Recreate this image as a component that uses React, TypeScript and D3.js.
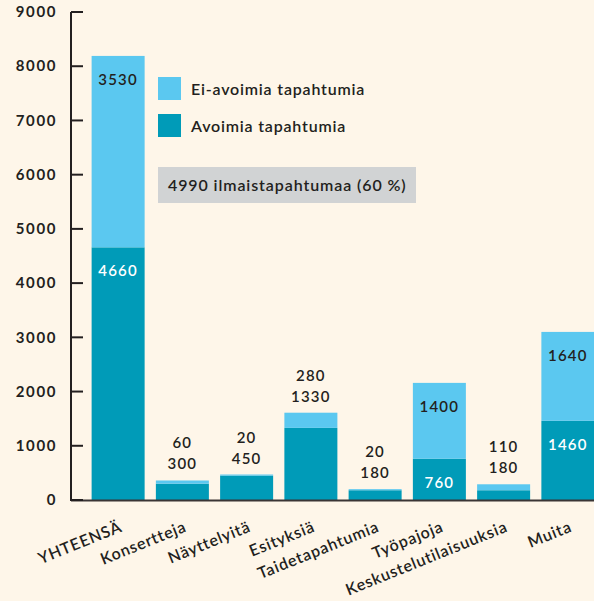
import * as d3 from "d3";
import React from "react";

const categories = [
  "YHTEENSÄ",
  "Konsertteja",
  "Näyttelyitä",
  "Esityksiä",
  "Taidetapahtumia",
  "Työpajoja",
  "Keskustelutilaisuuksia",
  "Muita",
];
const avoimia = [4660, 300, 450, 1330, 180, 760, 180, 1460];
const eiAvoimia = [3530, 60, 20, 280, 20, 1400, 110, 1640];
// which bars carry their numbers inside the segments
const labelsInside = [true, false, false, false, false, true, false, true];
const yTicks = [0, 1000, 2000, 3000, 4000, 5000, 6000, 7000, 8000, 9000];
const legendLabels = ["Ei-avoimia tapahtumia", "Avoimia tapahtumia"];
const noteText = "4990 ilmaistapahtumaa (60 %)";

const W = 594;
const H = 601;
const BG = "#fef6e9";
const INK = "#231f20";
const LIGHT = "#5bc8f0";
const DARK = "#009bb8";
const FONT = "Lato, 'Open Sans', sans-serif";

const App = () => {
  const x = d3
    .scaleBand<string>()
    .domain(categories)
    .range([86, 600])
    .paddingInner(0.175)
    .paddingOuter(0.0875);
  const y = d3.scaleLinear().domain([0, 9000]).range([500, 12]);
  const axisX = 71;
  const bw = x.bandwidth();

  return (
    <div style={{ position: "absolute", left: 0, top: 0 }}>
      <svg width={W} height={H} style={{ display: "block" }} fontFamily={FONT}>
        <rect width={W} height={H} fill={BG} />

        {categories.map((c, i) => {
          const x0 = x(c) as number;
          const cx = x0 + bw / 2;
          const a = avoimia[i];
          const e = eiAvoimia[i];
          const topA = y(a);
          const topT = y(a + e);
          const numProps = { textAnchor: "middle", fontSize: 15, fontWeight: 600, letterSpacing: 1.2 } as const;
          return (
            <g key={c}>
              <rect x={x0} y={topA} width={bw} height={y(0) - topA} fill={DARK} />
              <rect x={x0} y={topT} width={bw} height={topA - topT} fill={LIGHT} />
              {labelsInside[i] ? (
                <>
                  <text x={cx} y={topT + 29} {...numProps} fill={INK}>
                    {e}
                  </text>
                  <text x={cx} y={topA + 29} {...numProps} fill="#ffffff">
                    {a}
                  </text>
                </>
              ) : (
                <>
                  <text x={cx} y={topT - 32} {...numProps} fill={INK}>
                    {e}
                  </text>
                  <text x={cx} y={topT - 11} {...numProps} fill={INK}>
                    {a}
                  </text>
                </>
              )}
              <text
                transform={`translate(${cx + 5},${531}) rotate(-22)`}
                textAnchor="end"
                fontSize={16}
                fontWeight={600}
                letterSpacing={0.8}
                fill={INK}
              >
                {c}
              </text>
            </g>
          );
        })}

        {/* baseline */}
        <line x1={axisX} x2={W} y1={y(0) + 0.5} y2={y(0) + 0.5} stroke="#3a3535" strokeWidth={2} />

        {/* y axis */}
        <line x1={axisX} x2={axisX} y1={y(9000)} y2={y(0) + 1} stroke={INK} strokeWidth={2} />
        {yTicks.map((t) => (
          <g key={t}>
            <line x1={axisX} x2={axisX + 12} y1={y(t)} y2={y(t)} stroke={INK} strokeWidth={2} />
            <text
              x={57}
              y={y(t)}
              dy="0.35em"
              textAnchor="end"
              fontSize={15}
              fontWeight={700}
              letterSpacing={1.6}
              fill={INK}
            >
              {t}
            </text>
          </g>
        ))}

        {/* legend */}
        {legendLabels.map((l, i) => (
          <g key={l} transform={`translate(158,${77 + i * 37})`}>
            <rect width={23} height={23} fill={i === 0 ? LIGHT : DARK} />
            <text x={33} y={12} dy="0.35em" fontSize={16} fontWeight={600} letterSpacing={0.8} fill={INK}>
              {l}
            </text>
          </g>
        ))}

        <rect x={158} y={167} width={258} height={36} fill="#d1d3d4" />
        <text x={168} y={185} dy="0.35em" fontSize={16} fontWeight={600} letterSpacing={0.9} fill={INK}>
          {noteText}
        </text>
      </svg>
    </div>
  );
};

export default App;
